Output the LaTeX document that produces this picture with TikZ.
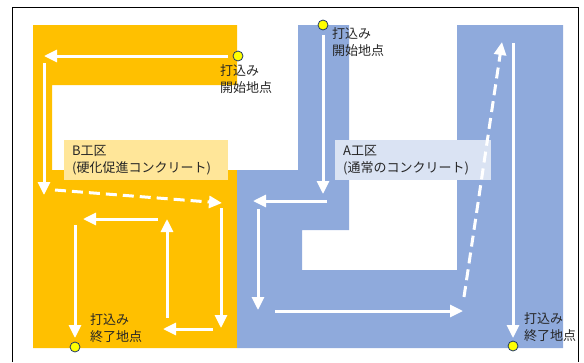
\documentclass[tikz,border=0pt]{standalone}
\usepackage{fontspec}
\setmainfont{Noto Sans CJK JP}
\usetikzlibrary{arrows.meta}
\definecolor{bOrange}{HTML}{FFC000}
\definecolor{aBlue}{HTML}{8FAADC}
\definecolor{bLabel}{HTML}{FFE699}
\definecolor{aLabel}{HTML}{DAE3F3}
\definecolor{dotYellow}{HTML}{FFFF00}
\definecolor{dotEdge}{HTML}{203864}
\definecolor{txt}{HTML}{262626}
\begin{document}
\begin{tikzpicture}[x=1pt,y=-1pt,
  flow/.style={draw=white, line width=3pt, -{Triangle[length=13pt,width=12pt]}},
  dflow/.style={flow, dash pattern=on 11pt off 6pt},
  dot/.style={circle, fill=dotYellow, draw=dotEdge, line width=0.8pt, minimum size=10pt, inner sep=0pt},
  note/.style={font=\fontsize{13}{17.5}\selectfont, text=txt, align=left, inner sep=0pt, anchor=west},
  zone/.style={font=\fontsize{13}{17.5}\selectfont, text=txt, align=left, minimum height=40pt, inner xsep=8pt, inner ysep=0pt, anchor=north west}
]
\useasboundingbox (0,0) rectangle (584,362);
% frame
\draw[black, line width=0.9pt] (12,362) -- (12,7) -- (578,7) -- (578,362);
% zones
\fill[bOrange] (33,25) -- (237,25) -- (237,85) -- (52,85) -- (52,170) -- (237,170) -- (237,348) -- (33,348) -- cycle;
\fill[aBlue] (237,170) -- (298,170) -- (298,25) -- (349,25) -- (349,230) -- (302,230) -- (302,270) -- (457,270) -- (457,25) -- (563,25) -- (563,348) -- (237,348) -- cycle;
% labels
\node[zone, fill=bLabel, text width=148pt] (labB) at (64,140) {B工区\\(硬化促進コンクリート)};
\node[zone, fill=aLabel, text width=140pt] (labA) at (335,140) {A工区\\(通常のコンクリート)};
% coordinates of flows
\coordinate (b1s) at (228,56);  \coordinate (b1e) at (44,56);
\coordinate (b2s) at (44,63);   \coordinate (b2e) at (44,195);
\coordinate (b3s) at (55,190);  \coordinate (b3e) at (222,203);
\coordinate (b4s) at (221,208); \coordinate (b4e) at (221,328);
\coordinate (b5s) at (213,329); \coordinate (b5e) at (163,329);
\coordinate (b6s) at (167,318); \coordinate (b6e) at (167,219);
\coordinate (b7s) at (158,219); \coordinate (b7e) at (83,219);
\coordinate (b8s) at (75,225);  \coordinate (b8e) at (75,338);
\coordinate (a1s) at (323,35);  \coordinate (a1e) at (323,194);
\coordinate (a2s) at (327,201); \coordinate (a2e) at (253,201);
\coordinate (a3s) at (258,209); \coordinate (a3e) at (258,310);
\coordinate (a4s) at (275,311); \coordinate (a4e) at (463,311);
\coordinate (a5s) at (464,297); \coordinate (a5e) at (502,42);
\coordinate (a6s) at (513,43);  \coordinate (a6e) at (513,338);
% flows B
\draw[flow] (b1s) -- (b1e);
\draw[flow] (b2s) -- (b2e);
\draw[dflow] (b3s) -- (b3e);
\draw[flow] (b4s) -- (b4e);
\draw[flow] (b5s) -- (b5e);
\draw[flow] (b6s) -- (b6e);
\draw[flow] (b7s) -- (b7e);
\draw[flow] (b8s) -- (b8e);
% flows A
\draw[flow] (a1s) -- (a1e);
\draw[flow] (a2s) -- (a2e);
\draw[flow] (a3s) -- (a3e);
\draw[flow] (a4s) -- (a4e);
\draw[dflow] (a5s) -- (a5e);
\draw[flow] (a6s) -- (a6e);
% dots
\node[dot] (bStart) at (238,56) {};
\node[dot] (aStart) at (323,25) {};
\node[dot] (bEnd) at (75,347) {};
\node[dot] (aEnd) at (513,346) {};
% notes
\node[note] (bStartTxt) at (220,79) {打込み\\開始地点};
\node[note] (aStartTxt) at (332,42) {打込み\\開始地点};
\node[note] (bEndTxt) at (90,328) {打込み\\終了地点};
\node[note] (aEndTxt) at (524,327) {打込み\\終了地点};
\end{tikzpicture}
\end{document}
